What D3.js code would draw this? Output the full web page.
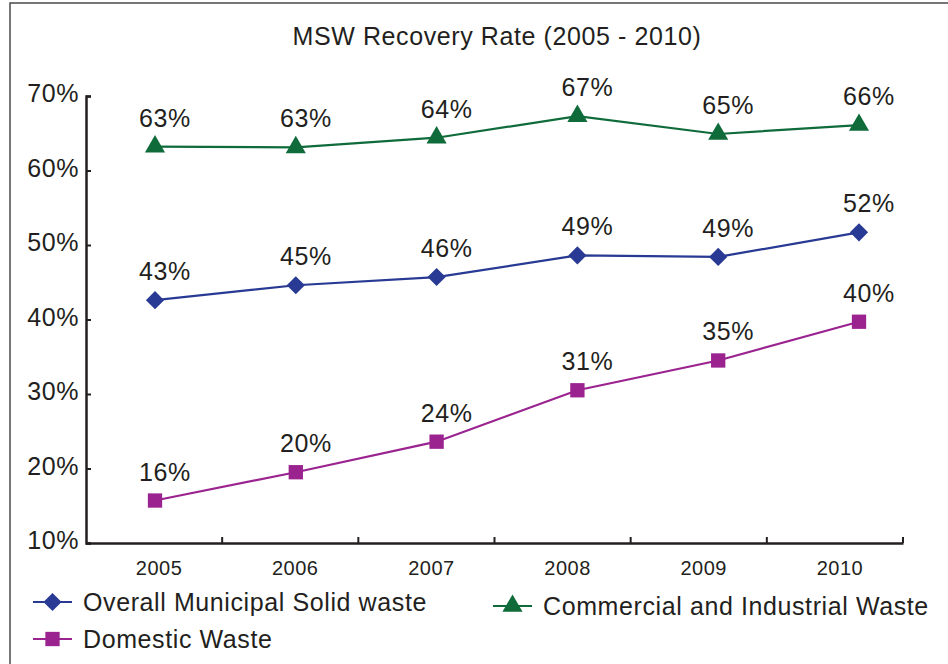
<!DOCTYPE html>
<html>
<head>
<meta charset="utf-8">
<script src="https://cdn.jsdelivr.net/npm/d3@7"></script>
<style>
  body { margin: 0; background: #fff; }
  svg text { font-family: "Liberation Sans", Arial, Helvetica, sans-serif; fill: #231f20; }
</style>
</head>
<body>
<div id="chart"></div>
<script>
var years = ["2005", "2006", "2007", "2008", "2009", "2010"];
var overallRate = [42.6, 44.6, 45.7, 48.6, 48.4, 51.7];
var domesticRate = [15.7, 19.5, 23.6, 30.5, 34.5, 39.7];
var commercialRate = [63.2, 63.1, 64.4, 67.3, 64.9, 66.1];
var overallLabels = ["43%", "45%", "46%", "49%", "49%", "52%"];
var domesticLabels = ["16%", "20%", "24%", "31%", "35%", "40%"];
var commercialLabels = ["63%", "63%", "64%", "67%", "65%", "66%"];
var yTicks = [10, 20, 30, 40, 50, 60, 70];

var svgWidth = 948;
var svgHeight = 664;

var margin = { top: 96, right: 45, bottom: 121, left: 86 };
var width = svgWidth - margin.left - margin.right;
var height = svgHeight - margin.top - margin.bottom;

var svg = d3.select("#chart")
  .append("svg")
  .attr("width", svgWidth)
  .attr("height", svgHeight);

// outer frame (right and bottom edges fall outside the picture)
svg.append("rect")
  .attr("x", 10).attr("y", 3)
  .attr("width", 1000).attr("height", 800)
  .attr("fill", "none")
  .attr("stroke", "#4a4a4a")
  .attr("stroke-width", 1.5);

svg.append("text")
  .attr("x", 497)
  .attr("y", 45)
  .attr("text-anchor", "middle")
  .attr("font-size", 25)
  .attr("letter-spacing", 0.6)
  .text("MSW Recovery Rate (2005 - 2010)");

var chartGroup = svg.append("g")
  .attr("transform", `translate(${margin.left}, ${margin.top})`);

var xBand = d3.scaleBand().domain(years).range([0, width]);
var xPoint = d3.scalePoint().domain(years).range([69, 773]);
var yScale = d3.scaleLinear().domain([10, 70]).range([height, 0]);

// y axis
var leftAxis = d3.axisLeft(yScale)
  .tickValues(yTicks)
  .tickSize(-5)
  .tickPadding(7)
  .tickFormat(d => d + "%");

var yG = chartGroup.append("g").call(leftAxis);
yG.select(".domain").attr("stroke", "#231f20").attr("stroke-width", 2.5);
yG.selectAll(".tick line").attr("stroke", "#231f20").attr("stroke-width", 2);
yG.selectAll(".tick text")
  .attr("dy", "0.23em")
  .attr("font-size", 25)
  .attr("letter-spacing", 0.6)
  .attr("font-family", null);

// x axis
var bottomAxis = d3.axisBottom(xBand).tickSize(0).tickPadding(18);
var xG = chartGroup.append("g")
  .attr("transform", `translate(0, ${height})`)
  .call(bottomAxis);
xG.select(".domain").attr("stroke", "#231f20").attr("stroke-width", 2.5);
xG.selectAll(".tick text")
  .attr("x", 5)
  .attr("font-size", 20)
  .attr("letter-spacing", 0.5)
  .attr("font-family", null);

xG.selectAll(".sep")
  .data(years)
  .enter()
  .append("line")
  .attr("class", "sep")
  .attr("x1", d => xBand(d) + xBand.bandwidth())
  .attr("x2", d => xBand(d) + xBand.bandwidth())
  .attr("y1", 0)
  .attr("y2", -6)
  .attr("stroke", "#231f20")
  .attr("stroke-width", 2);

var series = [
  { name: "Overall Municipal Solid waste", values: overallRate, labels: overallLabels, color: "#283a93", shape: "diamond" },
  { name: "Domestic Waste", values: domesticRate, labels: domesticLabels, color: "#9b2390", shape: "square" },
  { name: "Commercial and Industrial Waste", values: commercialRate, labels: commercialLabels, color: "#0f6b3a", shape: "triangle" }
];

function markerPath(shape) {
  if (shape == "diamond") return d3.symbol().type(d3.symbolSquare).size(165)();
  if (shape == "square") return d3.symbol().type(d3.symbolSquare).size(205)();
  return d3.symbol().type(d3.symbolTriangle).size(175)();
}
function markerRotate(shape) {
  return shape == "diamond" ? " rotate(45)" : "";
}

var line = d3.line()
  .x((d, i) => xPoint(years[i]))
  .y(d => yScale(d));

series.forEach(s => {
  var g = chartGroup.append("g");

  g.append("path")
    .datum(s.values)
    .attr("d", line)
    .attr("fill", "none")
    .attr("stroke", s.color)
    .attr("stroke-width", 2.2);

  g.selectAll(".marker")
    .data(s.values)
    .enter()
    .append("path")
    .attr("class", "marker")
    .attr("d", markerPath(s.shape))
    .attr("transform", (d, i) => `translate(${xPoint(years[i])}, ${yScale(d)})` + markerRotate(s.shape))
    .attr("fill", s.color);

  g.selectAll(".lbl")
    .data(s.values)
    .enter()
    .append("text")
    .attr("class", "lbl")
    .attr("x", (d, i) => xPoint(years[i]) + 10)
    .attr("y", d => yScale(d) - 20)
    .attr("text-anchor", "middle")
    .attr("font-size", 25)
    .attr("letter-spacing", 0.6)
    .text((d, i) => s.labels[i]);
});

// legend
var legendPos = [
  { x: 33, y: 602, ty: 611 },
  { x: 33, y: 639, ty: 648 },
  { x: 493, y: 606, ty: 615 }
];

series.forEach((s, i) => {
  var p = legendPos[i];
  var lg = svg.append("g").attr("transform", `translate(${p.x}, ${p.y})`);
  lg.append("line")
    .attr("x1", 0).attr("x2", 39)
    .attr("y1", 0).attr("y2", 0)
    .attr("stroke", s.color)
    .attr("stroke-width", 2.2);
  lg.append("path")
    .attr("d", markerPath(s.shape))
    .attr("transform", "translate(19.5, 0)" + markerRotate(s.shape))
    .attr("fill", s.color);
  lg.append("text")
    .attr("x", 50)
    .attr("y", p.ty - p.y)
    .attr("font-size", 25)
    .attr("letter-spacing", 0.6)
    .text(s.name);
});
</script>
</body>
</html>
